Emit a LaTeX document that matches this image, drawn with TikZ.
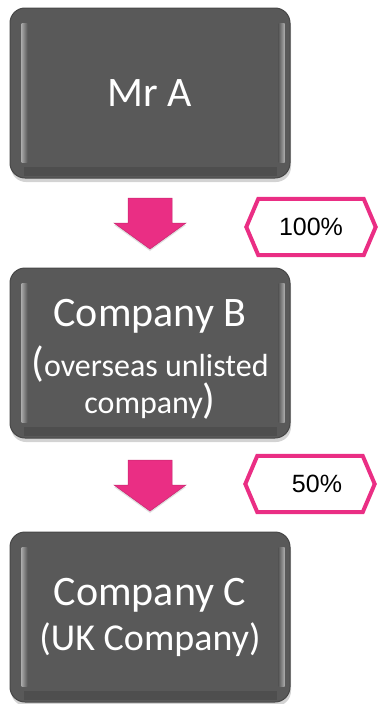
\documentclass[tikz,border=0pt]{standalone}
\usepackage{fontspec}
\setmainfont{Carlito}
\newfontfamily\pctfont{Liberation Sans}
\usetikzlibrary{calc,shadows}

\definecolor{boxgrey}{HTML}{595959}
\definecolor{boxedge}{HTML}{474747}
\definecolor{hotpink}{HTML}{EA2E84}

\tikzset{
  holder/.style={rounded corners=15pt, fill=boxgrey, draw=boxedge, line width=1pt,
    minimum width=280pt, minimum height=170pt, inner sep=0pt,
    text=white, align=center, font=\fontsize{42}{50}\selectfont,
    drop shadow={shadow xshift=1pt, shadow yshift=-4pt, opacity=0.35}},
  share/.style={font=\pctfont\fontsize{25}{28}\selectfont,
    minimum width=129pt, minimum height=56pt, inner sep=0pt},
  sharebox/.style={draw=hotpink, line width=4pt, line join=miter},
  downarrow/.style={fill=hotpink, draw=hotpink!85!black, line width=0.5pt,
    drop shadow={shadow xshift=0pt, shadow yshift=-2pt, opacity=0.25}}
}

\begin{document}
\begin{tikzpicture}[x=1pt, y=-1pt]

  \useasboundingbox (0,0) rectangle (382,704);

  % --- ownership chain ---
  \node[holder] (mrA) at (150,93) {Mr A};
  \node[holder] (coB) at (150,353)
    {\rule{0pt}{39pt}Company B\\
     {\fontsize{42}{50}\selectfont(}{\fontsize{32}{37}\selectfont overseas unlisted}\\[-13pt]
     {\fontsize{32}{37}\selectfont company}{\fontsize{42}{50}\selectfont)}};
  \node[holder] (coC) at (150,617)
    {Company C\\[-5pt]
     {\fontsize{38}{46}\selectfont (UK Company)}};

  % --- bevel on the box edges ---
  \foreach \b in {mrA,coB,coC} {
    \shade[left color=gray!70, right color=boxgrey]
      ([shift={(12pt,16pt)}]\b.south west) rectangle ([shift={(18pt,-16pt)}]\b.north west);
    \shade[left color=boxgrey, right color=gray!65]
      ([shift={(-12pt,16pt)}]\b.south east) rectangle ([shift={(-6pt,-16pt)}]\b.north east);
    \fill[black, opacity=0.12]
      ([shift={(14pt,3pt)}]\b.south west) rectangle ([shift={(-14pt,12pt)}]\b.south east);
  }

  % --- arrows between the boxes ---
  \coordinate (arrAB) at ($(mrA.south)!0.5!(coB.north)$);
  \coordinate (arrBC) at ($(coB.south)!0.5!(coC.north)$);
  \foreach \a in {arrAB,arrBC} {
    \fill[downarrow] (\a) ++(-22,-25) -- ++(44,0) -- ++(0,25) -- ++(14,0)
      -- ++(-36,26) -- ++(-36,-26) -- ++(14,0) -- cycle;
  }

  % --- shareholdings ---
  \node[share] (pctAB) at (311,227) {100\%};
  \node[share] (pctBC) at (310,484) {\hspace{14pt}50\%};
  \foreach \p in {pctAB,pctBC} {
    \draw[sharebox] (\p.west) -- ([xshift=12pt]\p.north west)
      -- ([xshift=-12pt]\p.north east) -- (\p.east)
      -- ([xshift=-12pt]\p.south east) -- ([xshift=12pt]\p.south west) -- cycle;
  }

\end{tikzpicture}
\end{document}
